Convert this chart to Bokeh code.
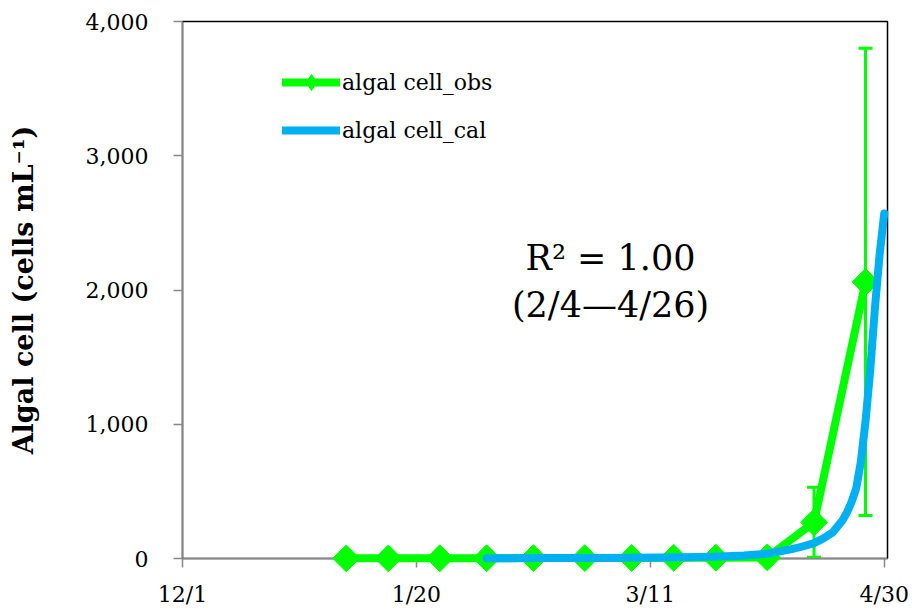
import math

import pandas as pd
from bokeh.embed import file_html
from bokeh.models import (ColumnDataSource, FixedTicker, Label, Legend,
                          LegendItem, NumeralTickFormatter, Range1d, TeeHead,
                          Whisker)
from bokeh.plotting import figure
from bokeh.resources import INLINE

# ---- data -------------------------------------------------------------
season_start = "2014-12-01"

obs_dates = ["2015-01-05", "2015-01-14", "2015-01-25", "2015-02-04",
             "2015-02-14", "2015-02-25", "2015-03-07", "2015-03-16",
             "2015-03-25", "2015-04-05", "2015-04-15", "2015-04-26"]
obs_cells = [1, 1, 2, 2, 3, 3, 4, 5, 6, 8, 270, 2060]
obs_sd = [0, 0, 0, 0, 0, 0, 0, 0, 0, 0, 260, 1740]

cal_dates = ["2015-02-04", "2015-02-14", "2015-02-25", "2015-03-07",
             "2015-03-16", "2015-03-21", "2015-03-26", "2015-03-31",
             "2015-04-05", "2015-04-10", "2015-04-12", "2015-04-15",
             "2015-04-17", "2015-04-19", "2015-04-21", "2015-04-22",
             "2015-04-23", "2015-04-24", "2015-04-25", "2015-04-26",
             "2015-04-27", "2015-04-28", "2015-04-29", "2015-04-30"]
cal_cells = [2, 3, 4, 6, 8, 11, 15, 22, 35, 68, 84, 115, 150, 195, 280,
             340, 420, 520, 720, 1020, 1400, 1860, 2260, 2570]

tick_dates = ["2014-12-01", "2015-01-20", "2015-03-11", "2015-04-30"]
tick_labels = ["12/1", "1/20", "3/11", "4/30"]
y_ticks = [0, 1000, 2000, 3000, 4000]

r2_text = "R\u00b2 = 1.00"
period_text = "(2/4\u20144/26)"


def day_offset(dates):
    """Days elapsed since the start of the season."""
    t0 = pd.Timestamp(season_start)
    return [(pd.Timestamp(d) - t0).days for d in dates]


GREEN = "#00FF00"
BLUE = "#00B0F0"
SERIF = "DejaVu Serif"

obs_x = day_offset(obs_dates)
cal_x = day_offset(cal_dates)
tick_x = day_offset(tick_dates)

obs_src = ColumnDataSource(dict(x=obs_x, y=obs_cells))
cal_src = ColumnDataSource(dict(x=cal_x, y=cal_cells))
err_idx = [i for i, s in enumerate(obs_sd) if s > 0]
err_src = ColumnDataSource(dict(
    x=[obs_x[i] for i in err_idx],
    lower=[obs_cells[i] - obs_sd[i] for i in err_idx],
    upper=[obs_cells[i] + obs_sd[i] for i in err_idx],
))

# ---- figure -----------------------------------------------------------
p = figure(
    frame_width=705, frame_height=537,
    min_border_left=182, min_border_right=25,
    min_border_top=21, min_border_bottom=54,
    x_range=Range1d(0, 150.7), y_range=Range1d(0, 4000),
    output_backend="svg", toolbar_location=None,
    background_fill_color="white", border_fill_color="white",
)
p.grid.visible = False
p.outline_line_color = "black"
p.outline_line_width = 1.5

# axes
for ax in (p.xaxis[0], p.yaxis[0]):
    ax.axis_line_color = "#888888"
    ax.axis_line_width = 1.5
    ax.major_tick_line_color = "#888888"
    ax.major_tick_line_width = 1.5
    ax.major_tick_in = 0
    ax.major_tick_out = 9
    ax.minor_tick_line_color = None
    ax.major_label_text_font = SERIF
    ax.major_label_text_font_size = "22px"
    ax.major_label_text_color = "black"

p.xaxis.ticker = FixedTicker(ticks=tick_x)
p.xaxis.major_label_overrides = dict(zip(tick_x, tick_labels))
p.xaxis.major_label_standoff = 14

p.yaxis.ticker = FixedTicker(ticks=y_ticks)
p.yaxis.formatter = NumeralTickFormatter(format="0,0")
p.yaxis.major_label_standoff = 25
p.yaxis.axis_label = "Algal cell (cells mL\u207b\u00b9)"
p.yaxis.axis_label_text_font = SERIF
p.yaxis.axis_label_text_font_style = "bold"
p.yaxis.axis_label_text_font_size = "27px"
p.yaxis.axis_label_text_color = "black"
p.yaxis.axis_label_standoff = 44

# error bars of the observations
p.add_layout(Whisker(
    source=err_src, base="x", lower="lower", upper="upper",
    dimension="height", line_color=GREEN, line_width=3,
    upper_head=TeeHead(size=14, line_color=GREEN, line_width=3),
    lower_head=TeeHead(size=14, line_color=GREEN, line_width=3),
))

# observed series (drawn on the overlay level so markers at zero stay whole)
obs_line = p.line("x", "y", source=obs_src, line_color=GREEN, line_width=8,
                  line_join="round", line_cap="round", level="overlay")
# slim diamonds sit inside the big ones; they give the legend its symbol
obs_key = p.scatter("x", "y", source=obs_src, marker="diamond", size=16,
                    fill_color=GREEN, line_color=GREEN, level="overlay")
obs_pts = p.scatter("x", "y", source=obs_src, marker="square",
                    angle=math.pi / 4, size=19, fill_color=GREEN,
                    line_color=GREEN, level="overlay")

# calculated series
cal_line = p.line("x", "y", source=cal_src, line_color=BLUE, line_width=8,
                  line_join="round", line_cap="round", level="overlay")

legend = Legend(
    items=[LegendItem(label="algal cell_obs", renderers=[obs_line, obs_key]),
           LegendItem(label="algal cell_cal", renderers=[cal_line])],
    location=(100, 408), orientation="vertical",
    border_line_color=None, background_fill_alpha=0,
    padding=0, margin=0, spacing=8,
    glyph_width=58, glyph_height=40, label_height=20, label_standoff=2,
    label_text_font=SERIF, label_text_font_size="22px",
    label_text_color="black",
)
p.add_layout(legend)

# fit statistics
for txt, yv in ((r2_text, 2242), (period_text, 1885)):
    p.add_layout(Label(x=91.5, y=yv, text=txt, text_align="center",
                       text_baseline="middle", text_font=SERIF,
                       text_font_size="35px", text_color="black"))

open("out.html", "w").write(file_html(p, INLINE))
